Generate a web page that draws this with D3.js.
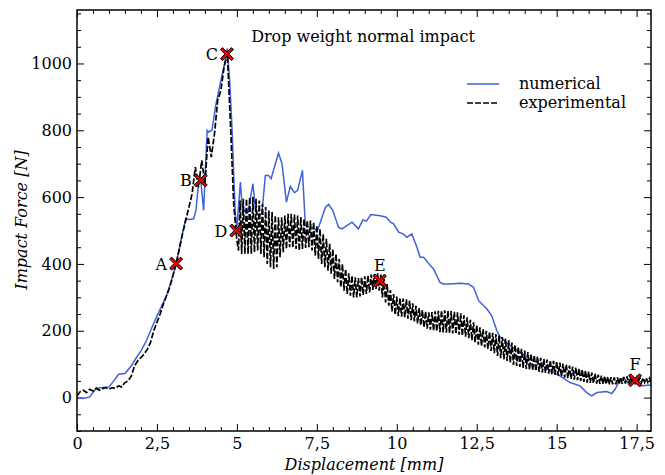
<!DOCTYPE html>
<html>
<head>
<meta charset="utf-8">
<script src="https://cdn.jsdelivr.net/npm/d3@7"></script>
<style>
  body { margin: 0; background: #fff; }
  text { font-family: "DejaVu Serif", serif; fill: #000; }
</style>
</head>
<body>
<div id="chart"></div>
<script>
// numerical (FE) curve, displacement [mm] and force [N]
const numX = [0, 0.2, 0.4, 0.6, 0.8, 1.0, 1.15, 1.3, 1.5, 1.7, 1.86, 2.0, 2.17, 2.3, 2.48, 2.65, 2.8, 2.95,
  3.1, 3.25, 3.4, 3.5, 3.65, 3.72, 3.8, 3.86, 3.96, 4.07, 4.12, 4.22, 4.33, 4.48, 4.64, 4.7, 4.78, 4.85,
  4.9, 4.95, 5.0, 5.11, 5.18, 5.25, 5.35, 5.5, 5.58, 5.68, 5.78, 5.89, 5.99, 6.07, 6.3, 6.41, 6.55,
  6.67, 6.8, 6.9, 7.05, 7.14, 7.3, 7.52, 7.77, 7.87, 8.0, 8.18, 8.29, 8.6, 8.8, 8.94, 9.05, 9.19, 9.48,
  9.67, 9.8, 9.9, 10.06, 10.2, 10.32, 10.47, 10.63, 10.73, 10.84, 11.05, 11.15, 11.35, 11.46, 11.67,
  11.98, 12.24, 12.4, 12.56, 12.82, 12.97, 13.13, 13.23, 13.55, 13.86, 14.17, 14.48, 14.8, 15.1, 15.42,
  15.73, 15.94, 16.1, 16.26, 16.57, 16.72, 16.83, 16.98, 17.09, 17.24, 17.45, 17.6, 17.95];
const numY = [0, -3, 2, 28, 30, 32, 50, 70, 72, 95, 120, 140, 170, 200, 240, 275, 305, 350,
  400, 470, 536, 533, 535, 560, 640, 660, 560, 800, 795, 800, 870, 940, 1010, 1045, 940, 800,
  670, 550, 510, 645, 550, 560, 555, 640, 565, 545, 550, 665, 665, 655, 732, 700, 585,
  632, 613, 620, 680, 515, 510, 500, 570, 578, 560, 509, 505, 525, 505, 532, 528, 548, 544,
  540, 525, 520, 495, 490, 480, 490, 450, 420, 420, 395, 385, 345, 340, 340,
  342, 340, 330, 290, 265, 245, 200, 182, 155, 135, 115, 100, 80, 65, 45,
  35, 15, 5, 15, 18, 12, 25, 55, 58, 45, 45, 35, 38];

// experimental curve, loading part: sampled every 0.1 mm from 0
const expEarlyStep = 0.1;
const expEarly = [
  5, 18, 22, 15, 25, 20, 28, 22, 27, 30,
  25, 30, 28, 35, 32, 45, 50, 65, 95, 110,
  120, 130, 145, 165, 200, 225, 250, 280, 305, 330,
  365, 400, 445, 490, 530, 570, 610, 690, 630, 710,
  640, 780, 720, 790, 890, 920, 990, 1030, 820, 580];

// experimental curve after the peak: sampled every 0.05 mm from 5.0 (oscillating)
const expLateStart = 5.0, expLateStep = 0.05;
const expLate = [
  470, 440, 590, 430, 595, 430, 595, 430, 600, 430,
  600, 435, 595, 440, 590, 430, 580, 420, 570, 400,
  560, 390, 555, 385, 545, 390, 540, 420, 540, 435,
  545, 445, 550, 450, 550, 448, 548, 445, 545, 440,
  540, 445, 535, 448, 530, 450, 530, 440, 525, 425,
  515, 415, 505, 400, 490, 390, 475, 380, 460, 370,
  445, 355, 430, 345, 415, 330, 400, 320, 385, 310,
  372, 305, 365, 300, 360, 300, 358, 303, 360, 307,
  363, 310, 366, 315, 368, 322, 370, 325, 372, 320,
  368, 300, 355, 285, 340, 275, 322, 258, 310, 248,
  302, 244, 298, 242, 296, 240, 294, 236, 290, 232,
  282, 228, 275, 222, 268, 216, 262, 210, 258, 206,
  255, 203, 256, 200, 258, 198, 260, 196, 261, 195,
  261, 194, 260, 193, 259, 192, 257, 190, 255, 188,
  252, 185, 246, 182, 240, 178, 233, 172, 225, 165,
  217, 158, 210, 154, 205, 150, 200, 146, 197, 140,
  194, 133, 190, 125, 186, 118, 181, 114, 177, 110,
  172, 104, 165, 98, 158, 95, 152, 92, 146, 89,
  141, 86, 136, 83, 131, 81, 127, 79, 123, 77,
  119, 75, 116, 74, 114, 72, 112, 70, 110, 68,
  108, 66, 105, 63, 102, 60, 99, 58, 96, 56,
  93, 54, 90, 52, 87, 50, 84, 47, 81, 45,
  78, 44, 75, 43, 72, 42, 69, 41, 66, 40,
  64, 40, 62, 40, 61, 40, 60, 40, 60, 40,
  60, 41, 62, 42, 63, 42, 63, 43, 62, 44,
  60, 45, 60, 45, 59, 46, 59, 46, 58, 46];

// marked points
const markLabels = ["A", "B", "C", "D", "E", "F"];
const markX = [3.1, 3.87, 4.69, 4.98, 9.47, 17.45];
const markY = [401, 650, 1028, 500, 350, 52];
const markSide = ["left", "left", "left", "left", "top", "top"];

const xTicks = [0, 2.5, 5, 7.5, 10, 12.5, 15, 17.5];
const yTicks = [0, 200, 400, 600, 800, 1000];

const width = 665, height = 475;
const margin = { top: 10, right: 14, bottom: 44, left: 77 };
const plotW = width - margin.left - margin.right;
const plotH = height - margin.top - margin.bottom;
const fontSize = "16px";

const svg = d3.select("#chart").append("svg")
  .attr("width", width).attr("height", height);
const g = svg.append("g").attr("transform", `translate(${margin.left},${margin.top})`);

const x = d3.scaleLinear().domain([0, 17.95]).range([0, plotW]);
const y = d3.scaleLinear().domain([-100, 1160]).range([plotH, 0]);

const fmt = d => String(d).replace(".", ",");
const xMinor = d3.range(0, 18, 0.5).filter(v => v % 2.5 !== 0);
const yMinor = d3.range(-100, 1160, 50).filter(v => v % 200 !== 0);

// ticks point inward on all four sides
function addAxis(axisFn, scale, major, minor, transform, labels) {
  const a = g.append("g").attr("transform", transform);
  a.call(axisFn(scale).tickValues(minor).tickSize(-4).tickFormat(""));
  const b = g.append("g").attr("transform", transform);
  b.call(axisFn(scale).tickValues(major).tickSize(-7).tickPadding(labels ? 7 : 0)
    .tickFormat(labels ? fmt : ""));
  [a, b].forEach(s => {
    s.select(".domain").remove();
    s.selectAll("line").attr("stroke", "#000").attr("stroke-width", 1);
    s.selectAll("text").style("font-family", "DejaVu Serif, serif").style("font-size", fontSize);
  });
  return b;
}
addAxis(d3.axisBottom, x, xTicks, xMinor, `translate(0,${plotH})`, true);
addAxis(d3.axisTop, x, xTicks, xMinor, "translate(0,0)", false);
addAxis(d3.axisLeft, y, yTicks, yMinor, "translate(0,0)", true).selectAll("text").attr("x", -5);
addAxis(d3.axisRight, y, yTicks, yMinor, `translate(${plotW},0)`, false);

g.append("clipPath").attr("id", "clip").append("rect")
  .attr("width", plotW).attr("height", plotH);

const line = d3.line().x(d => x(d[0])).y(d => y(d[1]));

const numData = numX.map((v, i) => [v, numY[i]]);
const expData = expEarly.map((v, i) => [i * expEarlyStep, v])
  .concat(expLate.map((v, i) => [expLateStart + i * expLateStep, v]));

g.append("path").datum(numData)
  .attr("clip-path", "url(#clip)")
  .attr("d", line)
  .attr("fill", "none")
  .attr("stroke", "#4062d8")
  .attr("stroke-width", 1.5);

g.append("path").datum(expData)
  .attr("clip-path", "url(#clip)")
  .attr("d", line)
  .attr("fill", "none")
  .attr("stroke", "#000")
  .attr("stroke-width", 1.7)
  .attr("stroke-dasharray", "6,2");

// frame
g.append("rect").attr("width", plotW).attr("height", plotH)
  .attr("fill", "none").attr("stroke", "#000").attr("stroke-width", 1.5);

// X markers
const xShape = (a, t) => {
  // a: arm half-length, t: half thickness
  const pts = [[-a, -a + t], [-a + t, -a], [0, -t], [a - t, -a], [a, -a + t], [t, 0],
    [a, a - t], [a - t, a], [0, t], [-a + t, a], [-a, a - t], [-t, 0]];
  return "M" + pts.map(p => p.join(",")).join("L") + "Z";
};
const marks = g.selectAll(".mark").data(markLabels).enter().append("g")
  .attr("class", "mark")
  .attr("transform", (d, i) => `translate(${x(markX[i])},${y(markY[i])})`);
marks.append("path").attr("d", xShape(6.5, 2))
  .attr("fill", "#ee0000").attr("stroke", "#000").attr("stroke-width", 1);
marks.append("text")
  .attr("x", (d, i) => markSide[i] === "left" ? -9 : 0)
  .attr("y", (d, i) => markSide[i] === "left" ? 6 : -10)
  .attr("text-anchor", (d, i) => markSide[i] === "left" ? "end" : "middle")
  .style("font-size", fontSize)
  .text(d => d);

// title
g.append("text").attr("x", 286).attr("y", 32).attr("text-anchor", "middle")
  .style("font-size", fontSize).text("Drop weight normal impact");

// legend
const legend = g.append("g").attr("transform", "translate(390,74)");
legend.append("line").attr("x1", 0).attr("x2", 32).attr("y1", 0).attr("y2", 0)
  .attr("stroke", "#4062d8").attr("stroke-width", 1.5);
legend.append("text").attr("x", 52).attr("y", 5).style("font-size", fontSize).text("numerical");
legend.append("line").attr("x1", 0).attr("x2", 32).attr("y1", 19).attr("y2", 19)
  .attr("stroke", "#000").attr("stroke-width", 1.7).attr("stroke-dasharray", "6,2");
legend.append("text").attr("x", 52).attr("y", 24).style("font-size", fontSize).text("experimental");

// axis titles
svg.append("text").attr("x", margin.left + plotW / 2).attr("y", 470)
  .attr("text-anchor", "middle").style("font-size", fontSize).style("font-style", "italic")
  .text("Displacement [mm]");
svg.append("text").attr("transform", `translate(27,${margin.top + 210}) rotate(-90)`)
  .attr("text-anchor", "middle").style("font-size", fontSize).style("font-style", "italic")
  .text("Impact Force [N]");
</script>
</body>
</html>
